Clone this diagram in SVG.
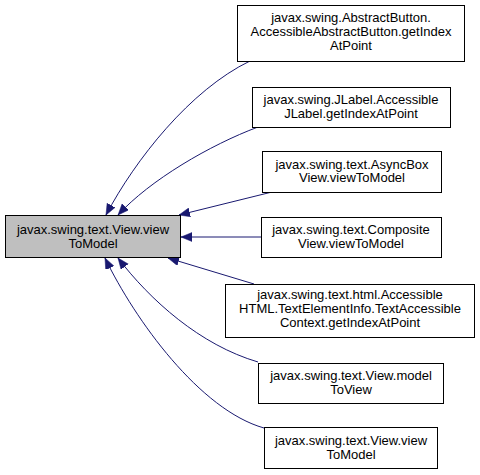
<svg xmlns="http://www.w3.org/2000/svg" width="480" height="475" viewBox="0 0 480 475">
<defs>
<style>
.n rect{fill:#ffffff;stroke:#000000;stroke-width:1}
#main rect{fill:#bfbfbf}
text{font-family:"Liberation Sans",Arial,sans-serif;font-size:13px;fill:#000000;text-anchor:middle}
.e path{fill:none;stroke:#191970;stroke-width:1;marker-end:url(#ah)}
</style>
<marker id="ah" markerUnits="userSpaceOnUse" markerWidth="12" markerHeight="10" refX="11" refY="4.5" orient="auto">
<path d="M0,0 L11,4.5 L0,9 z" fill="#191970" stroke="#191970" stroke-width="0.5"/>
</marker>
</defs>
<rect width="480" height="475" fill="#ffffff"/>
<g id="edges" class="e">
<path d="M250,61 C190,90 135,160 106,215"/>
<path d="M258,127 C210,145 150,180 118,215"/>
<path d="M272,192 L179,215"/>
<path d="M261,237 L181,237"/>
<path d="M254,284 L168,258"/>
<path d="M258,362 C200,345 150,300 118,258"/>
<path d="M264,428 C200,410 135,320 105,258"/>
</g>
<g id="main" class="n">
<rect x="5.5" y="215.5" width="175" height="42"/>
<text x="93" y="234">javax.swing.text.View.view</text>
<text x="93" y="248">ToModel</text>
</g>
<g id="n1" class="n">
<rect x="237.5" y="5.5" width="227" height="56"/>
<text x="351" y="22">javax.swing.AbstractButton.</text>
<text x="351" y="36">AccessibleAbstractButton.getIndex</text>
<text x="351" y="50">AtPoint</text>
</g>
<g id="n2" class="n">
<rect x="252.5" y="87.5" width="198" height="40"/>
<text x="351" y="103.5">javax.swing.JLabel.Accessible</text>
<text x="351" y="117.5">JLabel.getIndexAtPoint</text>
</g>
<g id="n3" class="n">
<rect x="262.5" y="151.5" width="179" height="41"/>
<text x="352" y="168.5">javax.swing.text.AsyncBox</text>
<text x="352" y="182">View.viewToModel</text>
</g>
<g id="n4" class="n">
<rect x="261.5" y="217.5" width="180" height="40"/>
<text x="351" y="234">javax.swing.text.Composite</text>
<text x="351" y="248">View.viewToModel</text>
</g>
<g id="n5" class="n">
<rect x="225.5" y="284.5" width="249" height="53"/>
<text x="350" y="298.5">javax.swing.text.html.Accessible</text>
<text x="350" y="312.5">HTML.TextElementInfo.TextAccessible</text>
<text x="350" y="326.5">Context.getIndexAtPoint</text>
</g>
<g id="n6" class="n">
<rect x="258.5" y="363.5" width="185" height="40"/>
<text x="351" y="380">javax.swing.text.View.model</text>
<text x="351" y="394">ToView</text>
</g>
<g id="n7" class="n">
<rect x="264.5" y="427.5" width="173" height="41"/>
<text x="351" y="444.5">javax.swing.text.View.view</text>
<text x="351" y="458.5">ToModel</text>
</g>
</svg>
